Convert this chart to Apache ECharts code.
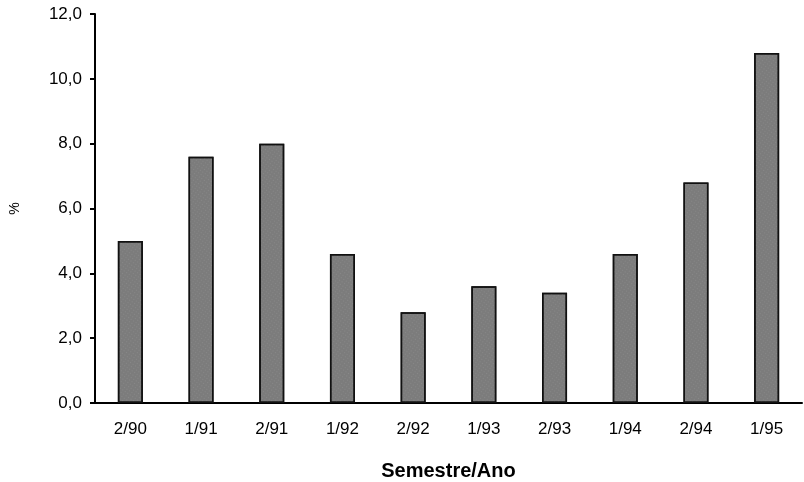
<!DOCTYPE html>
<html>
<head>
<meta charset="utf-8">
<script src="https://cdn.jsdelivr.net/npm/echarts@6/dist/echarts.min.js"></script>
<style>
  html, body { margin: 0; padding: 0; background: #fff; }
  #chart { width: 804px; height: 482px; }
</style>
</head>
<body>
<div id="chart"></div>
<script>
// Semesters (semestre/ano) and the rate in % for each
const categories = ['2/90', '1/91', '2/91', '1/92', '2/92', '1/93', '2/93', '1/94', '2/94', '1/95'];
const values = [5.0, 7.6, 8.0, 4.6, 2.8, 3.6, 3.4, 4.6, 6.8, 10.8];
const yTicks = { min: 0, max: 12, interval: 2 };

const chart = echarts.init(document.getElementById('chart'));
const font = 'Liberation Sans, Arial, sans-serif';

chart.setOption({
  animation: false,
  grid: { left: 95, right: 2, top: 14, bottom: 79, outerBoundsMode: 'none', containLabel: false },
  xAxis: {
    type: 'category',
    data: categories,
    name: 'Semestre/Ano',
    nameLocation: 'middle',
    nameGap: 58,
    nameTextStyle: { fontFamily: font, fontSize: 20, fontWeight: 'bold', color: '#000' },
    axisLine: { lineStyle: { color: '#000', width: 2 } },
    axisTick: { length: 5, lineStyle: { color: '#000', width: 2 } },
    axisLabel: { fontFamily: font, fontSize: 17, color: '#000', margin: 18 }
  },
  yAxis: {
    type: 'value',
    min: yTicks.min,
    max: yTicks.max,
    interval: yTicks.interval,
    name: '%',
    nameLocation: 'middle',
    nameGap: 73,
    nameRotate: 90,
    nameTextStyle: { fontFamily: font, fontSize: 14, color: '#000' },
    splitLine: { show: false },
    axisLine: { show: true, lineStyle: { color: '#000', width: 2 } },
    axisTick: { show: true, length: 5, lineStyle: { color: '#000', width: 2 } },
    axisLabel: {
      fontFamily: font, fontSize: 17, color: '#000', margin: 13,
      formatter: v => v.toFixed(1).replace('.', ',')
    }
  },
  series: [{
    type: 'bar',
    data: values,
    barWidth: 25,
    itemStyle: {
      color: '#7c7c7c',
      borderColor: '#111',
      borderWidth: 1.5,
      decal: {
        symbol: 'rect',
        symbolSize: 0.5,
        dashArrayX: [1, 2],
        dashArrayY: [1, 2],
        rotation: 0.6,
        color: 'rgba(210,210,210,0.55)'
      }
    }
  }]
});
</script>
</body>
</html>
